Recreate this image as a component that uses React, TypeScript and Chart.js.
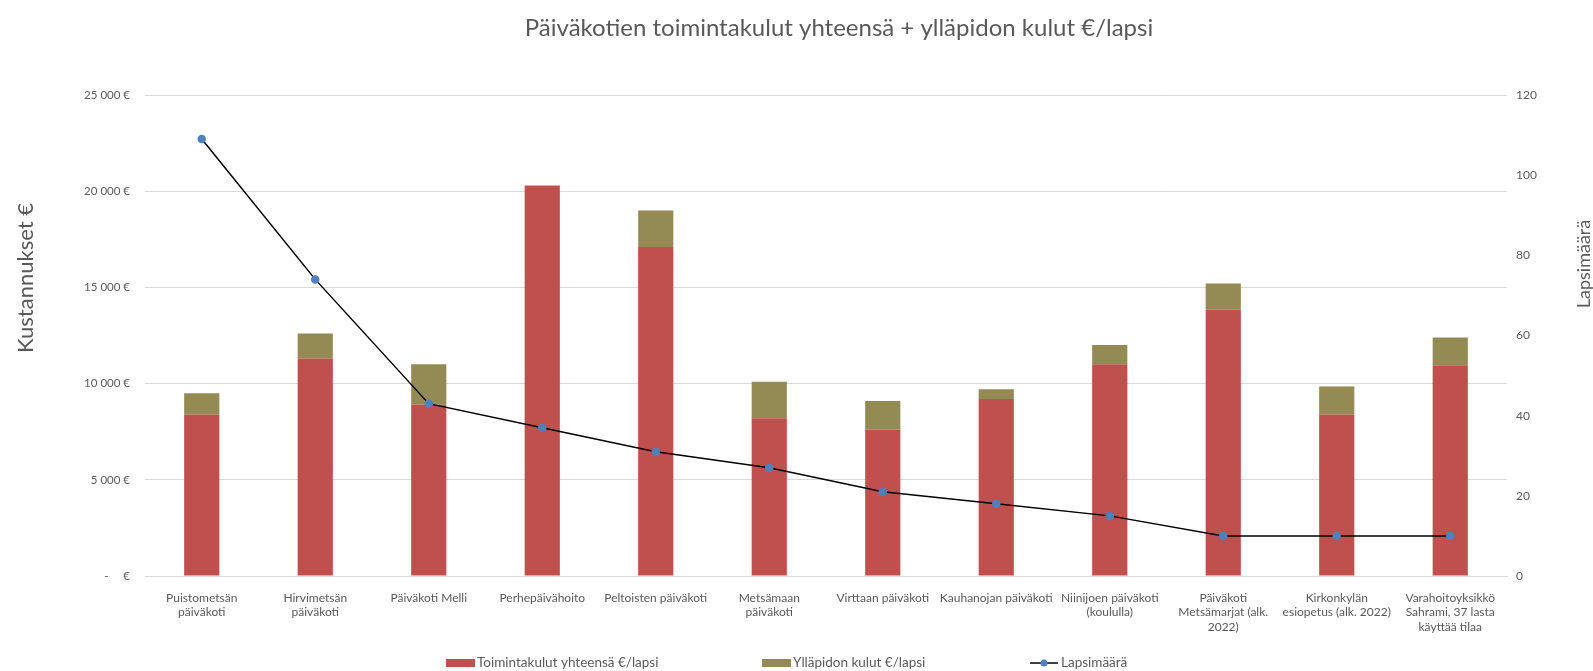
import React, { useEffect, useRef } from "react";
import { Chart, registerables } from "chart.js";

Chart.register(...registerables);

const TITLE = "Päiväkotien toimintakulut yhteensä + ylläpidon kulut €/lapsi";
const Y_TITLE = "Kustannukset €";
const Y1_TITLE = "Lapsimäärä";

const categories: (string | string[])[] = [
  ["Puistometsän", "päiväkoti"],
  ["Hirvimetsän", "päiväkoti"],
  "Päiväkoti Melli",
  "Perhepäivähoito",
  "Peltoisten päiväkoti",
  ["Metsämaan", "päiväkoti"],
  "Virttaan päiväkoti",
  "Kauhanojan päiväkoti",
  ["Niinijoen päiväkoti", "(koululla)"],
  ["Päiväkoti", "Metsämarjat (alk.", "2022)"],
  ["Kirkonkylän", "esiopetus (alk. 2022)"],
  ["Varahoitoyksikkö", "Sahrami, 37 lasta", "käyttää tilaa"],
];

const toimintakulut = [8400, 11300, 8900, 20300, 17100, 8200, 7600, 9200, 11000, 13850, 8400, 10950];
const yllapito = [1100, 1300, 2100, 0, 1900, 1900, 1500, 500, 1000, 1350, 1450, 1450];
const lapsimaara = [109, 74, 43, 37, 31, 27, 21, 18, 15, 10, 10, 10];

const SERIES_NAMES = ["Toimintakulut yhteensä €/lapsi", "Ylläpidon kulut €/lapsi", "Lapsimäärä"];

const RED = "#C0504D";
const OLIVE = "#948A54";
const BLUE = "#4F81BD";
const TEXT = "#595959";
const GRID = "#D9D9D9";
const FONT = "Lato, 'Open Sans', sans-serif";

const overlay = {
  id: "overlay",
  afterDraw(chart: any) {
    const ctx = chart.ctx as CanvasRenderingContext2D;
    const area = chart.chartArea;
    ctx.save();
    ctx.fillStyle = TEXT;
    ctx.textAlign = "center";
    ctx.textBaseline = "middle";
    ctx.font = `24px ${FONT}`;
    ctx.fillText(TITLE, (area.left + area.right) / 2 + 13, 28);

    ctx.font = `22px ${FONT}`;
    ctx.save();
    ctx.translate(26, 278);
    ctx.rotate(-Math.PI / 2);
    ctx.fillText(Y_TITLE, 0, 0);
    ctx.restore();
    ctx.font = `18px ${FONT}`;
    ctx.save();
    ctx.translate(1584, 264);
    ctx.rotate(-Math.PI / 2);
    ctx.fillText(Y1_TITLE, 0, 0);
    ctx.restore();

    // legend
    const ly = 663;
    ctx.font = `13.5px ${FONT}`;
    ctx.textAlign = "left";
    const starts = [446, 762, 1030];
    chart.data.datasets.forEach((ds: any, i: number) => {
      const x = starts[i];
      if (ds.type === "line") {
        ctx.strokeStyle = "#000";
        ctx.lineWidth = 1.5;
        ctx.beginPath();
        ctx.moveTo(x, ly);
        ctx.lineTo(x + 28, ly);
        ctx.stroke();
        ctx.fillStyle = BLUE;
        ctx.beginPath();
        ctx.arc(x + 14, ly, 3.5, 0, Math.PI * 2);
        ctx.fill();
      } else {
        ctx.fillStyle = ds.backgroundColor;
        ctx.fillRect(x, ly - 4, 29, 8);
      }
      ctx.fillStyle = TEXT;
      ctx.fillText(ds.label, x + 31, ly);
    });
    ctx.restore();
  },
};

export default function App() {
  const ref = useRef<HTMLCanvasElement>(null);

  useEffect(() => {
    document.body.style.margin = "0";
    document.body.style.overflow = "hidden";
    const canvas = ref.current;
    if (!canvas) return;
    const chart = new Chart(canvas, {
      type: "bar",
      data: {
        labels: categories,
        datasets: [
          {
            type: "bar",
            label: SERIES_NAMES[0],
            data: toimintakulut,
            backgroundColor: RED,
            yAxisID: "y",
            stack: "s",
            order: 1,
            barPercentage: 0.31,
            categoryPercentage: 1,
          },
          {
            type: "bar",
            label: SERIES_NAMES[1],
            data: yllapito,
            backgroundColor: OLIVE,
            yAxisID: "y",
            stack: "s",
            order: 2,
            barPercentage: 0.31,
            categoryPercentage: 1,
          },
          {
            type: "line",
            label: SERIES_NAMES[2],
            data: lapsimaara,
            borderColor: "#000",
            borderWidth: 1.5,
            pointBackgroundColor: BLUE,
            pointBorderColor: BLUE,
            pointRadius: 3.5,
            tension: 0,
            yAxisID: "y1",
            order: 0,
          } as any,
        ],
      },
      options: {
        animation: false,
        responsive: false,
        layout: { padding: { top: 95, left: 0, right: 0, bottom: 0 } },
        plugins: {
          legend: { display: false },
          title: { display: false },
          tooltip: { enabled: false },
        },
        scales: {
          x: {
            stacked: true,
            grid: { display: false },
            border: { color: GRID },
            ticks: {
              color: TEXT,
              font: { size: 12, family: FONT },
              padding: 7,
              maxRotation: 0,
              autoSkip: false,
            },
            afterFit(s: any) {
              s.height = 95;
            },
          },
          y: {
            stacked: true,
            position: "left",
            min: 0,
            max: 25000,
            grid: { color: GRID, drawTicks: false },
            border: { display: false },
            ticks: {
              stepSize: 5000,
              padding: 15,
              color: TEXT,
              font: { size: 11.5, family: FONT },
              callback: (v: any) => (v === 0 ? "-     €" : `${v / 1000} 000 €`),
            },
            afterFit(s: any) {
              s.width = 145;
            },
          },
          y1: {
            position: "right",
            min: 0,
            max: 120,
            grid: { display: false, drawTicks: false },
            border: { display: false },
            ticks: {
              stepSize: 20,
              padding: 9,
              color: TEXT,
              font: { size: 12, family: FONT },
            },
            afterFit(s: any) {
              s.width = 86;
            },
          },
        },
      },
      plugins: [overlay],
    });
    return () => chart.destroy();
  }, []);

  return (
    <div style={{ width: 1593, height: 671 }}>
      <canvas ref={ref} width={1593} height={671} />
    </div>
  );
}
